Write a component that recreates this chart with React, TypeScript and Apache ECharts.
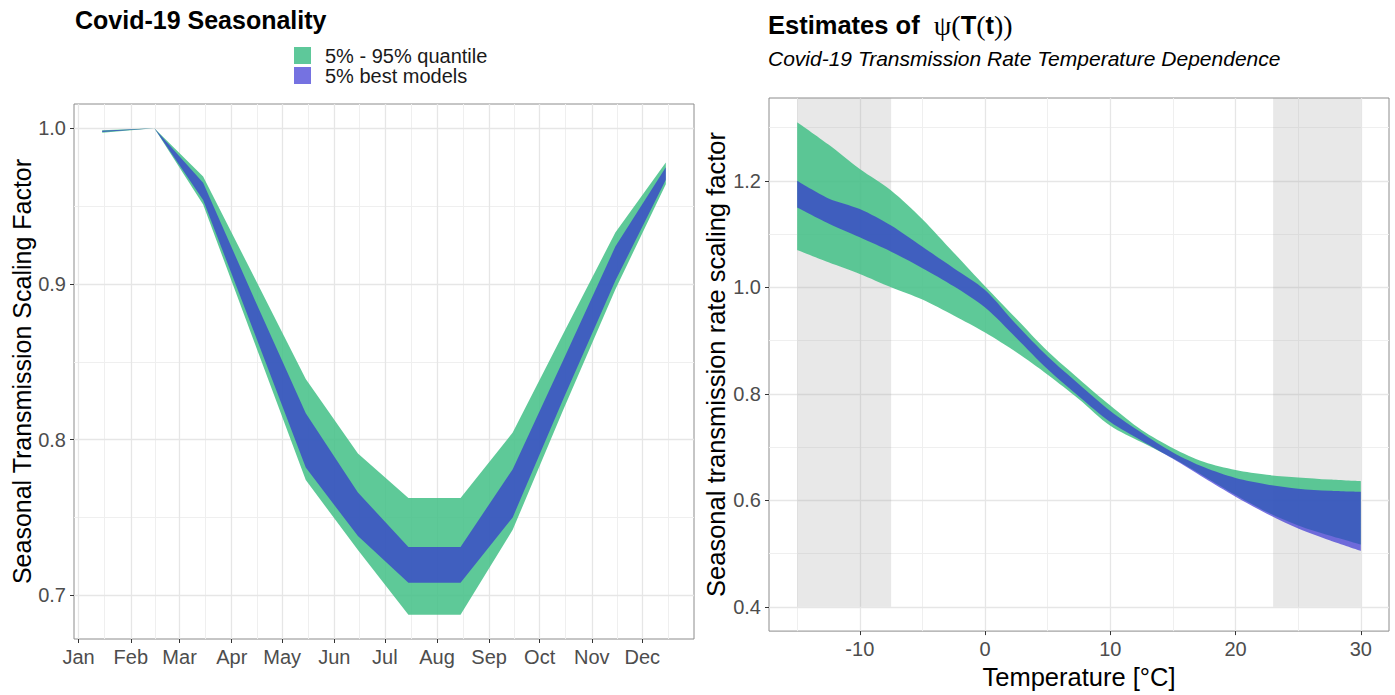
import React, { useEffect, useRef } from 'react';
import * as echarts from 'echarts';

// ---------- Left panel data (Covid-19 Seasonality) ----------
const monthLabels = ['Jan', 'Feb', 'Mar', 'Apr', 'May', 'Jun', 'Jul', 'Aug', 'Sep', 'Oct', 'Nov', 'Dec'];
const monthStartDays = [0, 31, 60, 91, 121, 152, 182, 213, 244, 274, 305, 335];
const nextYearStartDay = 366;
const sampleDays = [14, 45, 74, 105, 135, 166, 196, 227, 258, 288, 319, 349];
const seasGreenUpper = [0.9988, 1.0, 0.969, 0.903, 0.839, 0.791, 0.7625, 0.7625, 0.8045, 0.868, 0.933, 0.978];
const seasBlueUpper = [0.9985, 1.0, 0.965, 0.889, 0.817, 0.766, 0.731, 0.731, 0.781, 0.851, 0.924, 0.975];
const seasBlueLower = [0.9977, 1.0, 0.954, 0.867, 0.782, 0.738, 0.708, 0.708, 0.75, 0.826, 0.902, 0.967];
const seasGreenLower = [0.9972, 1.0, 0.951, 0.861, 0.774, 0.729, 0.6875, 0.6875, 0.742, 0.819, 0.8965, 0.964];
const leftYTicks = [0.7, 0.8, 0.9, 1.0];
const leftYMinor = [0.75, 0.85, 0.95];

// ---------- Right panel data (psi(T)) ----------
const temps = [-15, -12.5, -10, -7.5, -5, -2.5, 0, 2.5, 5, 7.5, 10, 12.5, 15, 17.5, 20, 22.5, 25, 27.5, 30];
const psiGreenUpper = [1.31, 1.268, 1.222, 1.182, 1.128, 1.065, 1.002, 0.941, 0.88, 0.828, 0.778, 0.732, 0.698, 0.672, 0.657, 0.648, 0.643, 0.639, 0.636];
const psiBlueUpper = [1.2, 1.167, 1.147, 1.116, 1.076, 1.036, 0.995, 0.93, 0.87, 0.818, 0.768, 0.727, 0.69, 0.662, 0.642, 0.63, 0.622, 0.618, 0.616];
const psiBlueLower = [1.15, 1.12, 1.094, 1.067, 1.036, 1.002, 0.962, 0.905, 0.846, 0.795, 0.747, 0.712, 0.678, 0.642, 0.607, 0.575, 0.547, 0.525, 0.505];
const psiGreenLower = [1.07, 1.047, 1.025, 1.0, 0.977, 0.947, 0.915, 0.878, 0.836, 0.79, 0.74, 0.709, 0.679, 0.645, 0.61, 0.578, 0.553, 0.534, 0.517];
const shadeRanges = [[-15, -7.5], [23, 30]];
const shadeBottom = 0.4;
const rightXTicks = [-10, 0, 10, 20, 30];
const rightXMinor = [-15, -5, 5, 15, 25];
const rightYTicks = [0.4, 0.6, 0.8, 1.0, 1.2];
const rightYMinor = [0.5, 0.7, 0.9, 1.1, 1.3];

const legendNames = ['5% - 95% quantile', '5% best models'];

const FONT = "'Liberation Sans', Arial, Helvetica, sans-serif";
const GREEN = 'rgba(66,191,134,0.85)';
const BLUE = 'rgba(49,43,210,0.67)';
const MAJOR = '#E6E6E6';
const MINOR = '#EFEFEF';

// rows are [y, x] so that the stack runs along the y (value) dimension
const rowsYX = (xs: number[], ys: number[]) => xs.map((x, i) => [ys[i], x]);
const rowsDiffYX = (xs: number[], up: number[], lo: number[]) => xs.map((x, i) => [up[i] - lo[i], x]);

function ribbon(name: string, xs: number[], up: number[], lo: number[], color: string, axis: number, z: number, smooth: number | boolean) {
  const stack = `${name}-${axis}`;
  const common = {
    type: 'line', xAxisIndex: axis, yAxisIndex: axis, stack, z, symbol: 'none', smooth, silent: true,
    encode: { x: 1, y: 0 },
    lineStyle: { opacity: 0, width: 0 },
  };
  return [
    { ...common, name: name + ' base', data: rowsYX(xs, lo) },
    { ...common, name, data: rowsDiffYX(xs, up, lo), areaStyle: { color, opacity: 1 } },
  ];
}

function gridLines(axis: number, xMajor: number[], xMinor: number[], yMajor: number[], yMinor: number[]) {
  const mk = (key: string, v: number, minor: boolean) => ({
    [key]: v,
    lineStyle: { color: minor ? MINOR : MAJOR, width: minor ? 1 : 1.3, type: 'solid' },
  });
  return {
    type: 'line', xAxisIndex: axis, yAxisIndex: axis, z: 0, silent: true, data: [],
    markLine: {
      z: 0, silent: true, symbol: ['none', 'none'], animation: false,
      label: { show: false },
      emphasis: { disabled: true },
      data: [
        ...xMinor.map((v) => mk('xAxis', v, true)),
        ...yMinor.map((v) => mk('yAxis', v, true)),
        ...xMajor.map((v) => mk('xAxis', v, false)),
        ...yMajor.map((v) => mk('yAxis', v, false)),
      ],
    },
  };
}

export default function App() {
  const ref = useRef<HTMLDivElement>(null);
  useEffect(() => {
    if (!ref.current) return;
    const chart = echarts.init(ref.current, undefined, { renderer: 'svg' });
    const monthMinor = monthStartDays.map((d, i) => (d + (i + 1 < monthStartDays.length ? monthStartDays[i + 1] : nextYearStartDay)) / 2);
    const axisLabelStyle = { color: '#4D4D4D', fontSize: 20, fontFamily: FONT, margin: 8 };
    const tickStyle = { show: true, length: 4, lineStyle: { color: '#333333', width: 1 } };
    const hiddenLine = { show: false, onZero: false };
    const rightYMax = 1.3555;

    const option: any = {
      animation: false,
      grid: [
        { left: 74, top: 104, width: 620, height: 535, show: true, borderColor: '#8C8C8C', borderWidth: 1, backgroundColor: 'transparent' },
        { left: 769, top: 98, width: 620, height: 541, show: true, borderColor: '#8C8C8C', borderWidth: 1, backgroundColor: 'transparent' },
      ],
      xAxis: [
        {
          type: 'value', gridIndex: 0, min: -2.75, max: 365.75,
          axisLine: hiddenLine, splitLine: { show: false },
          axisTick: { ...tickStyle, customValues: monthStartDays },
          axisLabel: { ...axisLabelStyle, customValues: monthStartDays, formatter: (v: number) => monthLabels[monthStartDays.indexOf(v)] ?? '' },
        },
        {
          type: 'value', gridIndex: 1, min: -17.25, max: 32.25,
          axisLine: hiddenLine, splitLine: { show: false },
          axisTick: { ...tickStyle, customValues: rightXTicks },
          axisLabel: { ...axisLabelStyle, customValues: rightXTicks, formatter: (v: number) => String(v) },
          name: 'Temperature [°C]', nameLocation: 'middle', nameGap: 26,
          nameTextStyle: { fontSize: 25.5, fontFamily: FONT, color: '#000' },
        },
      ],
      yAxis: [
        {
          type: 'value', gridIndex: 0, min: 0.671875, max: 1.015625,
          axisLine: hiddenLine, splitLine: { show: false },
          axisTick: { ...tickStyle, customValues: leftYTicks },
          axisLabel: { ...axisLabelStyle, customValues: leftYTicks, formatter: (v: number) => v.toFixed(1) },
          name: 'Seasonal Transmission Scaling Factor', nameLocation: 'middle', nameGap: 34, nameRotate: 90,
          nameTextStyle: { fontSize: 25, fontFamily: FONT, color: '#000' },
        },
        {
          type: 'value', gridIndex: 1, min: 0.3545, max: rightYMax,
          axisLine: hiddenLine, splitLine: { show: false },
          axisTick: { ...tickStyle, customValues: rightYTicks },
          axisLabel: { ...axisLabelStyle, customValues: rightYTicks, formatter: (v: number) => v.toFixed(1) },
          name: 'Seasonal transmission rate scaling factor', nameLocation: 'middle', nameGap: 38, nameRotate: 90,
          nameTextStyle: { fontSize: 25.5, fontFamily: FONT, color: '#000' },
        },
      ],
      series: [
        gridLines(0, monthStartDays, monthMinor, leftYTicks, leftYMinor),
        gridLines(1, rightXTicks, rightXMinor, rightYTicks, rightYMinor),
        {
          type: 'line', xAxisIndex: 1, yAxisIndex: 1, z: 1, silent: true, data: [],
          markArea: {
            z: 1, silent: true,
            itemStyle: { color: 'rgba(160,160,160,0.24)' },
            data: shadeRanges.map(([a, b]) => [{ xAxis: a, yAxis: shadeBottom }, { xAxis: b, yAxis: rightYMax }]),
          },
        },
        ...ribbon(legendNames[0], sampleDays, seasGreenUpper, seasGreenLower, GREEN, 0, 2, false),
        ...ribbon(legendNames[1], sampleDays, seasBlueUpper, seasBlueLower, BLUE, 0, 3, false),
        ...ribbon(legendNames[0], temps, psiGreenUpper, psiGreenLower, GREEN, 1, 2, 0.3),
        ...ribbon(legendNames[1], temps, psiBlueUpper, psiBlueLower, BLUE, 1, 3, 0.3),
      ],
      graphic: [
        { type: 'text', left: 75, top: 7, style: { text: 'Covid-19 Seasonality', font: `bold 25px ${FONT}`, fill: '#000' } },
        { type: 'rect', shape: { x: 294, y: 47, width: 17, height: 17 }, style: { fill: '#5EC89A' } },
        { type: 'rect', shape: { x: 294, y: 67, width: 17, height: 17 }, style: { fill: '#7572E1' } },
        { type: 'text', x: 325, y: 56, style: { text: legendNames[0], font: `20px ${FONT}`, fill: '#1A1A1A', textVerticalAlign: 'middle' } },
        { type: 'text', x: 325, y: 76, style: { text: legendNames[1], font: `20px ${FONT}`, fill: '#1A1A1A', textVerticalAlign: 'middle' } },
        {
          type: 'text', x: 768, y: 25,
          style: {
            text: '{b|Estimates of  }{s|ψ(}{b|T}{s|(}{b|t}{s|))}',
            textVerticalAlign: 'middle',
            rich: {
              b: { font: `bold 25.5px ${FONT}`, fill: '#000' },
              s: { font: `28px 'Liberation Serif', 'DejaVu Serif', serif`, fill: '#000' },
            },
          },
        },
        { type: 'text', x: 768, y: 58, style: { text: 'Covid-19 Transmission Rate Temperature Dependence', font: `italic 21px ${FONT}`, fill: '#000', textVerticalAlign: 'middle' } },
      ],
    };
    chart.setOption(option);
    return () => chart.dispose();
  }, []);
  return <div ref={ref} style={{ position: 'fixed', left: 0, top: 0, width: 1395, height: 695, background: '#fff' }} />;
}
